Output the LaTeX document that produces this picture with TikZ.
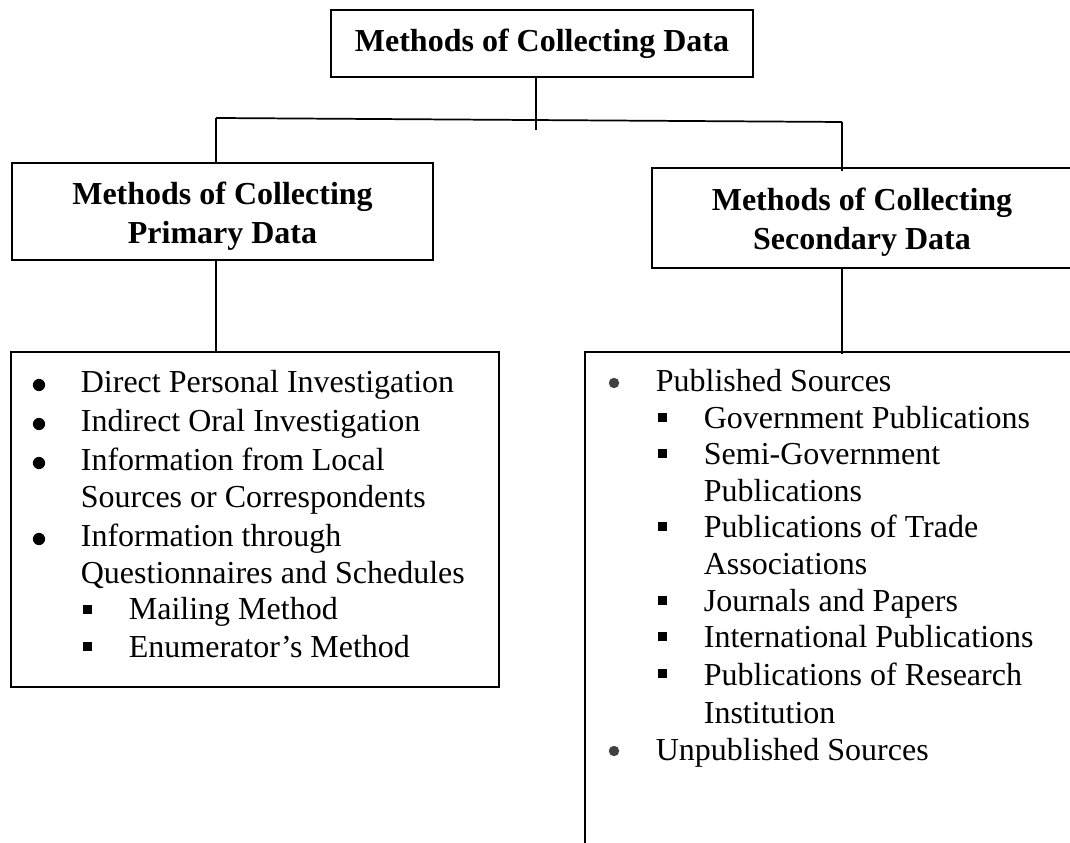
\documentclass[tikz,border=0pt]{standalone}
\usepackage{fontspec}
\setmainfont{Liberation Serif}
\usetikzlibrary{positioning}

\begin{document}
\begin{tikzpicture}[x=0.375pt, y=-0.375pt, line width=0.65pt,
  head/.style={draw, line width=0.75pt, inner sep=0pt, align=center,
    font=\bfseries\fontsize{12}{14.6}\selectfont},
  listbox/.style={draw, inner sep=0pt, minimum width=183pt},
  item/.style={anchor=base west, inner sep=0pt, font=\fontsize{12}{14}\selectfont}]
\fill[white] (0,0) rectangle (1070,843);
\path[use as bounding box, clip] (0,0) rectangle (1070,843);

% boxes
\node[head, minimum width=158.25pt, minimum height=25.1pt] (top) at (542,43.5) {Methods of Collecting Data};
\node[head, text height=26.3pt, minimum width=157.9pt, minimum height=36.4pt] (prim) at (222.5,211.5) {Methods of Collecting\\Primary Data};
\node[head, text height=26.3pt, minimum width=157.5pt, minimum height=37.5pt] (sec) at (862,218) {Methods of Collecting\\Secondary Data};
\node[listbox, minimum height=125.6pt] (primlist) at (255,519.5) {};
\node[listbox, minimum height=205.5pt] (seclist) at (829,626) {};

% Connect boxes
\coordinate (stem) at (536,130);
\coordinate (jl) at (216,118);
\coordinate (jr) at (842,122);
\draw (stem |- top.south) -- (stem);
\draw (jl) -- (jr);
\draw (jl) -- (jl |- prim.north);
\draw (jr) -- ([yshift=-1.5pt]jr |- sec.north);
\draw (prim.south -| jl) -- (jl |- primlist.north);
\draw (sec.south -| jr) -- ([yshift=-1pt]jr |- seclist.north);

% primary list
\foreach \x/\y/\txt [count=\i] in {80/393/Direct Personal Investigation, 80/432/Indirect Oral Investigation, 80/471/Information from Local, 80/508/Sources or Correspondents, 80/547/Information through, 80/584/Questionnaires and Schedules, 128/620/Mailing Method, 128/657/Enumerator’s Method}
\node[item] (pl\i) at (\x,\y) {\txt};
\foreach \y in {393,432,471,547}
\fill (39,\y-8) circle (2.3pt);
\foreach \y in {620,657}
\fill (83,\y-14.5) rectangle +(9,9);

% secondary list
\foreach \x/\y/\txt [count=\i] in {655/392/Published Sources, 703/429/Government Publications, 703/465/Semi-Government, 703/502/Publications, 703/538/Publications of Trade, 703/575/Associations, 703/612/Journals and Papers, 703/648/International Publications, 703/685/Publications of Research, 703/723/Institution, 655/760/Unpublished Sources}
\node[item] (sl\i) at (\x,\y) {\txt};
\foreach \y in {392,760}
\fill[black!75] (614,\y-9) circle (1.95pt);
\foreach \y in {429,465,538,612,648,685}
\fill (658,\y-15.5) rectangle +(9,9);

\end{tikzpicture}
\end{document}
